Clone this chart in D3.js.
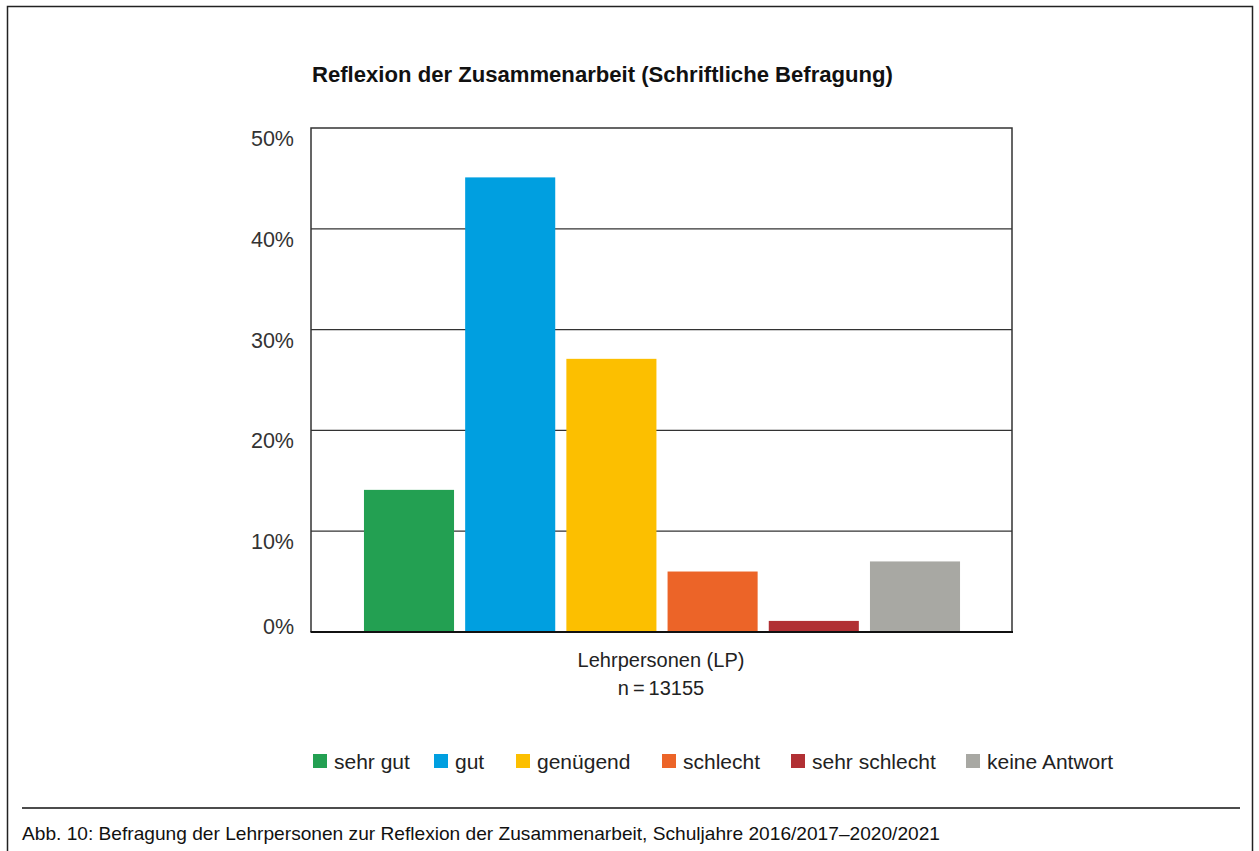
<!DOCTYPE html>
<html><head><meta charset="utf-8">
<script src="https://cdn.jsdelivr.net/npm/d3@7"></script>
<style>
html,body{margin:0;padding:0;background:#fff;}
svg{display:block;font-family:"Liberation Sans",Arial,Helvetica,sans-serif;}
</style></head>
<body>
<script>
const categories = ["sehr gut","gut","genügend","schlecht","sehr schlecht","keine Antwort"];
const values = [14.1, 45.1, 27.1, 6.0, 1.1, 7.0];
const colors = ["#23a052","#009fe0","#fcbf00","#ec6428","#b13034","#a8a8a3"];
const yTicks = [0,10,20,30,40,50];
const title = "Reflexion der Zusammenarbeit (Schriftliche Befragung)";
const xLabel = ["Lehrpersonen (LP)", "n\u2009=\u200913155"];
const caption = "Abb. 10: Befragung der Lehrpersonen zur Reflexion der Zusammenarbeit, Schuljahre 2016/2017\u20132020/2021";

const W=1259,H=851;
const svg=d3.select("body").append("svg").attr("width",W).attr("height",H);

// outer frame (no bottom edge)
svg.append("path").attr("d",`M7.5,${H} V6.5 H1252.5 V${H}`).attr("fill","none").attr("stroke","#222").attr("stroke-width",1.5);

const L=311,R=1012,T=128,B=632;
const y=d3.scaleLinear().domain([0,50]).range([B,T]);
const x=d3.scaleBand().domain(categories).range([364-5.6, 960+5.6]).paddingInner(0.11).paddingOuter(0.055);

const g=svg.append("g");
g.selectAll("line.grid").data(yTicks.filter(d=>d>0&&d<50)).join("line")
  .attr("x1",L).attr("x2",R).attr("y1",d=>y(d)).attr("y2",d=>y(d))
  .attr("stroke","#333").attr("stroke-width",1.3);

g.selectAll("rect.bar").data(values).join("rect")
  .attr("x",(d,i)=>x(categories[i])).attr("width",x.bandwidth())
  .attr("y",d=>y(d)).attr("height",d=>B-y(d)).attr("fill",(d,i)=>colors[i]);

svg.append("path").attr("d",`M${L},${B} V${T} H${R} V${B}`).attr("fill","none").attr("stroke","#333").attr("stroke-width",1.5);
svg.append("line").attr("x1",L-0.5).attr("x2",R+1).attr("y1",B).attr("y2",B).attr("stroke","#111").attr("stroke-width",2.2);

svg.selectAll("text.yt").data(yTicks).join("text")
  .attr("x",294).attr("y",d=>d===0? y(d)-5 : y(d)+11)
  .attr("text-anchor","end").attr("dominant-baseline","central")
  .attr("font-size",21.5).attr("fill","#333").text(d=>d+"%");

svg.append("text").attr("x",312).attr("y",82).attr("font-size",21.5).attr("font-weight","bold").attr("fill","#111")
  .attr("textLength",581).attr("lengthAdjust","spacingAndGlyphs").text(title);

svg.selectAll("text.xl").data(xLabel).join("text")
  .attr("x",661).attr("y",(d,i)=>667+i*28).attr("text-anchor","middle")
  .attr("font-size",20).attr("fill","#222").text(d=>d);

const legX=[313,434,516,662,791,966];
const lg=svg.selectAll("g.leg").data(categories).join("g").attr("transform",(d,i)=>`translate(${legX[i]},761)`);
lg.append("rect").attr("x",0).attr("y",-7).attr("width",14).attr("height",14).attr("fill",(d,i)=>colors[i]);
lg.append("text").attr("x",21).attr("y",0).attr("dominant-baseline","central").attr("font-size",21).attr("fill","#222").text(d=>d);

svg.append("line").attr("x1",22).attr("x2",1240).attr("y1",808).attr("y2",808).attr("stroke","#111").attr("stroke-width",1.3);
svg.append("text").attr("x",22).attr("y",840).attr("font-size",18.5).attr("fill","#111")
  .attr("textLength",918).attr("lengthAdjust","spacingAndGlyphs").text(caption);
</script>
</body></html>
